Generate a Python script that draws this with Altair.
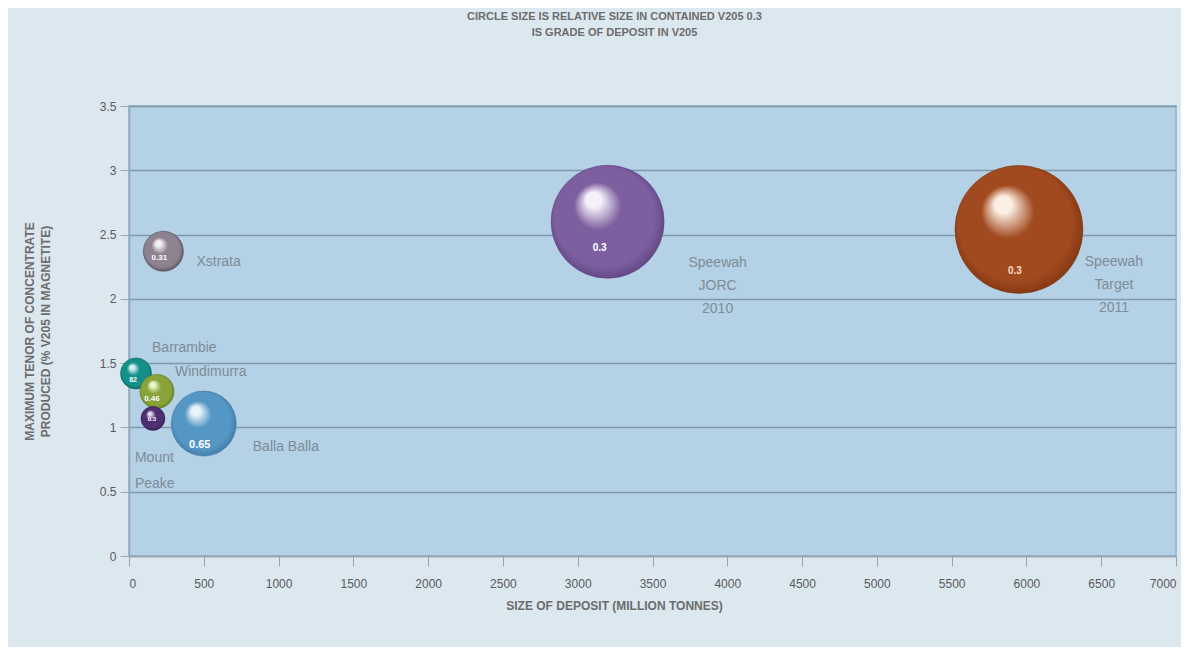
import altair as alt
import pandas as pd

# ---- data ----
names = ["Xstrata", "Barrambie", "Windimurra", "Mount Peake", "Balla Balla",
         "Speewah JORC 2010", "Speewah Target 2011"]
label_lines = ["Xstrata", "Barrambie", "Windimurra", "Mount\nPeake", "Balla Balla",
               "Speewah\nJORC\n2010", "Speewah\nTarget\n2011"]
deposit_mt = [230, 47, 187, 160, 500, 3200, 5950]
tenor_pct = [2.37, 1.42, 1.28, 1.07, 1.03, 2.6, 2.54]
relative_contained = [9.8, 5.9, 7.1, 3.5, 25.8, 78, 100]
grade_text = ["0.31", "82", "0.46", "0.3", "0.65", "0.3", "0.3"]

x_ticks = list(range(0, 7001, 500))
y_ticks = [0, 0.5, 1, 1.5, 2, 2.5, 3, 3.5]

df = pd.DataFrame({
    "name": names, "label": label_lines, "size": deposit_mt,
    "tenor": tenor_pct, "contained": relative_contained, "grade": grade_text,
})

# ---- styles ----
colors = {
    "Xstrata": ("#f4f0f4", "#8c8290", "#4f4652"),
    "Barrambie": ("#d8f4f2", "#129089", "#07605b"),
    "Windimurra": ("#eef6cf", "#88a33a", "#5b7419"),
    "Mount Peake": ("#e6dcf0", "#4e2f72", "#2c1548"),
    "Balla Balla": ("#eaf4fb", "#5496c4", "#3a73a0"),
    "Speewah JORC 2010": ("#f6f0fa", "#7c5f9f", "#5a3f7c"),
    "Speewah Target 2011": ("#fbeee2", "#a24a1f", "#7a3210"),
}
# name label offsets (dx, dy of first line, align, line height) in px
name_style = {
    "Xstrata": (33, 11, "left", 24),
    "Barrambie": (16, -25, "left", 24),
    "Windimurra": (18, -19, "left", 24),
    "Mount Peake": (-18, 40, "left", 26),
    "Balla Balla": (49, 23, "left", 24),
    "Speewah JORC 2010": (110, 41, "center", 23),
    "Speewah Target 2011": (95, 33, "center", 23),
}
# grade label (dx, dy, fontsize, colour)
grade_style = {
    "Xstrata": (-4, 7, 8, "#ffffff"),
    "Barrambie": (-3, 7, 7, "#ffffff"),
    "Windimurra": (-5, 8, 8, "#ffffff"),
    "Mount Peake": (-1, 1, 6, "#ffffff"),
    "Balla Balla": (-4, 21, 11, "#ffffff"),
    "Speewah JORC 2010": (-8, 26, 10, "#ffffff"),
    "Speewah Target 2011": (-4, 42, 10, "#f8dcc8"),
}

FONT = "Liberation Sans Narrow, Liberation Sans, Arial, sans-serif"
LABEL_FONT = "Liberation Sans, Arial, sans-serif"

x_enc = alt.X("size:Q", scale=alt.Scale(domain=[0, 7000], nice=False),
              axis=alt.Axis(values=x_ticks, format="d", grid=False,
                            title="SIZE OF DEPOSIT (MILLION TONNES)",
                            titleX=485, titleY=49, titleBaseline="middle",
                            titleAlign="center"))
y_enc = alt.Y("tenor:Q", scale=alt.Scale(domain=[0, 3.5], nice=False),
              axis=alt.Axis(values=y_ticks, grid=True,
                            labelExpr="'' + datum.value",
                            title=["MAXIMUM TENOR OF CONCENTRATE",
                                   "PRODUCED (% V205 IN MAGNETITE)"],
                            titleX=-100, titleY=225, titleAngle=-90,
                            titleAlign="center", titleBaseline="middle",
                            titleLineHeight=16))
size_enc = alt.Size("contained:Q",
                    scale=alt.Scale(domain=[0, 100], range=[0, 16384], zero=True),
                    legend=None)

base = alt.Chart(df)
layers = []
for n in names:
    light, mid, dark = colors[n]
    grad = {
        "gradient": "radial",
        "x1": 0.36, "y1": 0.28, "r1": 0,
        "x2": 0.5, "y2": 0.5, "r2": 0.55,
        "stops": [
            {"offset": 0, "color": light},
            {"offset": 0.12, "color": light},
            {"offset": 0.38, "color": mid},
            {"offset": 0.8, "color": mid},
            {"offset": 1, "color": dark},
        ],
    }
    layers.append(
        base.transform_filter(alt.datum.name == n)
        .mark_circle(fill=grad, opacity=1, fillOpacity=1, stroke=dark, strokeWidth=0.5)
        .encode(x=x_enc, y=y_enc, size=size_enc)
    )

for n in names:
    dx, dy, al, lh = name_style[n]
    layers.append(
        base.transform_filter(alt.datum.name == n)
        .mark_text(dx=dx, dy=dy, align=al, baseline="middle", fontSize=14,
                   font=LABEL_FONT, color="#7e8c97", lineBreak="\n", lineHeight=lh)
        .encode(x=x_enc, y=y_enc, text="label:N")
    )

for n in names:
    dx, dy, fs, col = grade_style[n]
    layers.append(
        base.transform_filter(alt.datum.name == n)
        .mark_text(dx=dx, dy=dy, align="center", baseline="middle", fontSize=fs,
                   font=LABEL_FONT, fontWeight="bold", color=col)
        .encode(x=x_enc, y=y_enc, text="grade:N")
    )

chart = alt.layer(*layers).properties(
    width=1047, height=450,
    autosize=alt.AutoSizeParams(type="none"),
    padding={"left": 121, "top": 98, "right": 5, "bottom": 91},
    background="#dce8f0",
    title=alt.TitleParams(
        text=["CIRCLE SIZE IS RELATIVE SIZE IN CONTAINED V205 0.3",
              "IS GRADE OF DEPOSIT IN V205"],
        fontSize=11, fontWeight="bold", color="#6c6c6c", font=FONT,
        anchor="middle", offset=62, dx=-38, lineHeight=16),
).configure_view(
    fill="#b4d1e5", stroke="#9dbdd3", strokeWidth=2
).configure_axis(
    domainColor="#9aa6ae", tickColor="#9aa6ae", domainWidth=1.5,
    labelColor="#5a5a5a", labelFontSize=12, labelFont=FONT,
    titleColor="#6c6c6c", titleFontSize=12, titleFont=FONT, titleFontWeight="bold",
    gridColor="#7f99ab", gridWidth=1.5,
).configure_axisX(
    tickSize=10, labelPadding=12,
).configure_axisY(
    tickSize=9, labelPadding=4,
)

chart.save("out.html", embed_options={"renderer": "svg", "actions": False})
